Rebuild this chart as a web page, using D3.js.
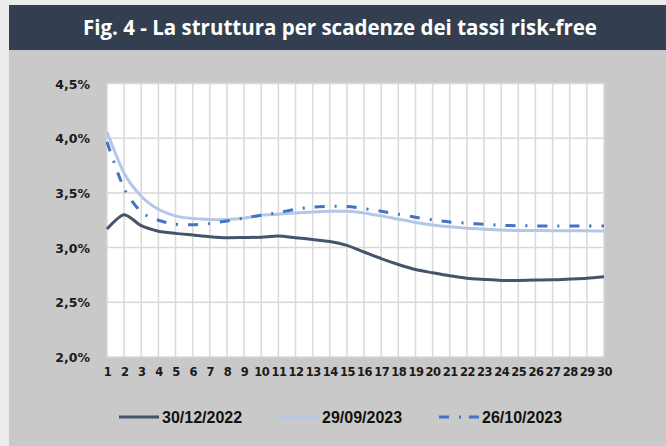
<!DOCTYPE html>
<html>
<head>
<meta charset="utf-8">
<script src="https://cdn.jsdelivr.net/npm/d3@7"></script>
<style>
  html, body { margin: 0; padding: 0; background: #ececec; }
  svg { display: block; }
</style>
</head>
<body>
<div id="chart"></div>
<script>
'use strict'

// scadenze (anni)
let maturities = d3.range(1, 31);

let yTicks = [2.0, 2.5, 3.0, 3.5, 4.0, 4.5];

let seriesNames = ['30/12/2022', '29/09/2023', '26/10/2023'];

let curve2022 = [3.17, 3.30, 3.20, 3.15, 3.13, 3.115, 3.10, 3.09, 3.092, 3.095,
                 3.105, 3.09, 3.074, 3.056, 3.02, 2.96, 2.90, 2.846, 2.80, 2.77,
                 2.742, 2.72, 2.709, 2.70, 2.70, 2.703, 2.705, 2.712, 2.72, 2.733];

let curveSep23 = [4.056, 3.68, 3.47, 3.35, 3.29, 3.265, 3.256, 3.256, 3.27, 3.296,
                  3.305, 3.317, 3.326, 3.332, 3.332, 3.317, 3.29, 3.26, 3.23, 3.207,
                  3.19, 3.177, 3.168, 3.16, 3.156, 3.156, 3.155, 3.155, 3.153, 3.152];

let curveOct23 = [3.965, 3.54, 3.326, 3.25, 3.213, 3.21, 3.22, 3.244, 3.27, 3.296,
                  3.32, 3.35, 3.37, 3.378, 3.375, 3.357, 3.332, 3.305, 3.277, 3.253,
                  3.234, 3.223, 3.213, 3.204, 3.20, 3.198, 3.198, 3.197, 3.197, 3.197];

let seriesColors = ['#44546a', '#b4c7e7', '#4472c4'];
let seriesDash = [null, null, '10,10,2,10'];

var W = 666, H = 446;
var plot = {left: 107, right: 604, top: 83.5, bottom: 357};

var svg = d3.select('#chart').append('svg')
    .attr('width', W)
    .attr('height', H);

// frame
svg.append('rect').attr('x', 0).attr('y', 0).attr('width', W).attr('height', H).attr('fill', '#ececec');
svg.append('rect').attr('x', 9).attr('y', 50).attr('width', W - 9).attr('height', H - 50).attr('fill', '#c9c9c9');
svg.append('rect').attr('x', 9).attr('y', 5).attr('width', W - 9).attr('height', 45).attr('fill', '#333f50');

svg.append('text')
    .attr('x', 340)
    .attr('y', 35)
    .attr('text-anchor', 'middle')
    .attr('fill', '#ffffff')
    .style('font-family', '"Open Sans", sans-serif')
    .style('font-weight', 'bold')
    .style('font-size', '20.5px')
    .text('Fig. 4 - La struttura per scadenze dei tassi risk-free');

var x = d3.scalePoint()
    .domain(maturities)
    .range([plot.left, plot.right]);

var y = d3.scaleLinear()
    .domain([2.0, 4.5])
    .range([plot.bottom, plot.top]);

svg.append('rect')
    .attr('x', plot.left).attr('y', plot.top)
    .attr('width', plot.right - plot.left).attr('height', plot.bottom - plot.top)
    .attr('fill', '#ffffff');

// gridlines
var grid = svg.append('g').attr('stroke', '#d9d9d9').attr('stroke-width', 1.5);
grid.selectAll('.vgrid')
    .data(maturities)
    .enter().append('line')
    .attr('class', 'vgrid')
    .attr('x1', function(d) { return x(d); })
    .attr('x2', function(d) { return x(d); })
    .attr('y1', plot.top)
    .attr('y2', plot.bottom);
grid.selectAll('.hgrid')
    .data(yTicks)
    .enter().append('line')
    .attr('class', 'hgrid')
    .attr('x1', plot.left)
    .attr('x2', plot.right)
    .attr('y1', function(d) { return y(d); })
    .attr('y2', function(d) { return y(d); });

// y axis
var yAxis = svg.append('g')
    .attr('transform', 'translate(' + (plot.left - 17) + ',0)')
    .call(d3.axisLeft(y).tickValues(yTicks).tickSize(0).tickPadding(0)
        .tickFormat(function(d) { return d.toFixed(1).replace('.', ',') + '%'; }));
yAxis.select('.domain').remove();
yAxis.selectAll('text')
    .attr('fill', '#1a1a1a')
    .attr('dy', '0.36em')
    .style('font-family', '"DejaVu Sans", sans-serif')
    .style('font-weight', 'bold')
    .style('font-size', '12.5px');

// x axis
var xAxis = svg.append('g')
    .attr('transform', 'translate(0,' + plot.bottom + ')')
    .call(d3.axisBottom(x).tickSize(0).tickPadding(13));
xAxis.select('.domain').remove();
xAxis.selectAll('text')
    .attr('fill', '#1a1a1a')
    .attr('dy', '0.5em')
    .style('font-family', '"DejaVu Sans", sans-serif')
    .style('font-weight', 'bold')
    .style('font-size', '11.5px')
    .style('letter-spacing', '-0.5px');

// lines
var allSeries = [curve2022, curveSep23, curveOct23];
var line = d3.line()
    .x(function(d, i) { return x(maturities[i]); })
    .y(function(d) { return y(d); })
    .curve(d3.curveCardinal.tension(0.25));

var drawOrder = [1, 0, 2];
drawOrder.forEach(function(k) {
    svg.append('path')
        .datum(allSeries[k])
        .attr('fill', 'none')
        .attr('stroke', seriesColors[k])
        .attr('stroke-width', 3)
        .attr('stroke-dasharray', seriesDash[k])
        .attr('d', line);
});

// legend
var legendX = [119, 279, 439];
var legend = svg.append('g');
seriesNames.forEach(function(name, i) {
    var g = legend.append('g').attr('transform', 'translate(' + legendX[i] + ',417)');
    g.append('line')
        .attr('x1', 0).attr('x2', 40)
        .attr('y1', 0).attr('y2', 0)
        .attr('stroke', seriesColors[i])
        .attr('stroke-width', 3)
        .attr('stroke-dasharray', i === 2 ? '10,10,2,8' : null);
    g.append('text')
        .attr('x', 43)
        .attr('y', 5.5)
        .attr('fill', '#111111')
        .style('font-family', '"Liberation Sans", Arial, sans-serif')
        .style('font-weight', 'bold')
        .style('font-size', '16px')
        .text(name);
});
</script>
</body>
</html>
